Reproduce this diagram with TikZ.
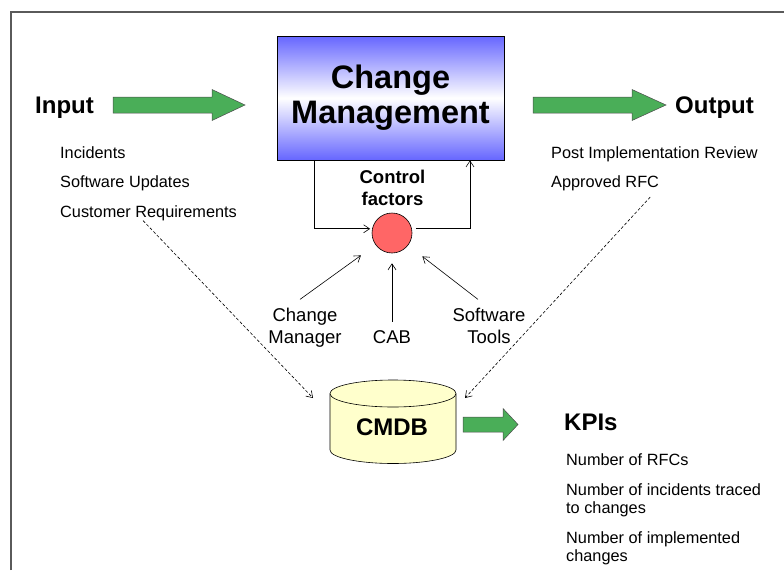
\documentclass[tikz,border=0pt]{standalone}
\usepackage{fontspec}
\setmainfont{Liberation Sans}
\usetikzlibrary{arrows.meta}
\definecolor{cmblue}{RGB}{102,102,255}
\definecolor{arrowgreen}{RGB}{74,174,88}
\definecolor{factorred}{RGB}{255,102,102}
\definecolor{dbyellow}{RGB}{255,255,204}
\definecolor{framegray}{RGB}{90,90,90}
\begin{document}
\begin{tikzpicture}[x=1pt,y=-1pt,
    >={Straight Barb[length=6pt,width=8pt]},
    small/.style={inner sep=0pt,anchor=base west,font=\fontsize{16.3}{18}\selectfont},
    big/.style={inner sep=0pt,font=\bfseries\fontsize{24}{28}\selectfont},
    factor/.style={inner sep=0pt,align=center,font=\fontsize{18.5}{22}\selectfont},
    link/.style={->,line width=0.6pt},
    dbline/.style={->,line width=0.6pt,dash pattern=on 3pt off 2pt},
    blockarrow/.style={fill=arrowgreen,draw=black!70,line width=0.5pt}]
  \useasboundingbox (0,0) rectangle (784,570);
  \draw[framegray,line width=1.5pt] (11,570) -- (11,12) -- (784,12);
  \node[draw,line width=0.8pt,minimum width=227pt,minimum height=124pt,
    top color=cmblue,bottom color=cmblue,middle color=white,align=center,
    font=\bfseries\fontsize{32.5}{35}\selectfont] (cm) at (390.5,98) {Change\\Management};
  \foreach \x/\y/\l/\h/\b/\w in {113/105/132/33/8/15.5,533/105/133/34/8/15.5,463/424.5/55/15/7.5/16}
    \draw[blockarrow] (\x,\y-\b) -- (\x+\l-\h,\y-\b) -- (\x+\l-\h,\y-\w) -- (\x+\l,\y)
      -- (\x+\l-\h,\y+\w) -- (\x+\l-\h,\y+\b) -- (\x,\y+\b) -- cycle;
  \node[big,anchor=base west] (input) at (35,113) {Input};
  \node[big,anchor=base west] (output) at (675,113) {Output};
  \node[big,anchor=base west] (kpis) at (564,430) {KPIs};
  \foreach \t [count=\i] in {Incidents,Software Updates,Customer Requirements}
    \node[small] (in\i) at (60,128.5+29.5*\i) {\t};
  \foreach \t [count=\i] in {Post Implementation Review,Approved RFC}
    \node[small] (out\i) at (551,128.5+29.5*\i) {\t};
  \node[small,align=left] (kpi1) at (566,465) {Number of RFCs};
  \node[small,align=left] (kpi2) at (566,513) {Number of incidents traced\\to changes};
  \node[small,align=left] (kpi3) at (566,561) {Number of implemented\\changes};
  \node[factor,font=\bfseries\fontsize{18.5}{22}\selectfont,anchor=base] (ctl) at (392.5,205) {Control\\factors};
  \node[circle,draw,fill=factorred,minimum size=40pt,inner sep=0pt,line width=0.6pt] (cf) at (392,233) {};
  \node[factor,anchor=base] (mgr) at (305,343) {Change\\Manager};
  \node[factor,anchor=base] (cab) at (392,343) {CAB};
  \node[factor,anchor=base] (tools) at (489,343) {Software\\Tools};
  \draw[link,shorten >=2pt] ([xshift=-76.5pt]cm.south) |- (cf.168);
  \draw[link,shorten <=4pt] (cf.12) -| ([xshift=79.5pt]cm.south);
  \draw[link,shorten >=18pt] ([xshift=-5pt,yshift=8pt]mgr.north) -- (cf);
  \draw[link,shorten >=10pt] ([yshift=8pt]cab.north) -- (cf);
  \draw[link,shorten >=18pt] ([xshift=-11pt,yshift=8pt]tools.north) -- (cf);
  \draw[fill=dbyellow,line width=0.6pt] (330,393.5) -- (330,450)
    arc[start angle=180,end angle=360,x radius=63pt,y radius=13.5pt] -- (456,393.5);
  \draw[fill=dbyellow,line width=0.6pt] (393,393.5) ellipse[x radius=63pt,y radius=13.5pt];
  \node[big,anchor=base] (cmdb) at (392,435) {CMDB};
  \coordinate (cmdbin) at (313,398);
  \coordinate (cmdbout) at (465,398);
  \draw[dbline] ([xshift=-5.5pt]in3.south) -- (cmdbin);
  \draw[dbline] ([shift={(-9pt,-6pt)}]out2.south east) -- (cmdbout);
\end{tikzpicture}
\end{document}
